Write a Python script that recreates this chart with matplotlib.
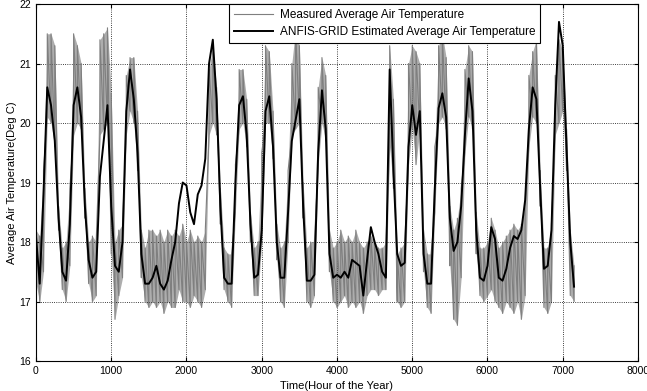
import matplotlib
matplotlib.use('Agg')
import matplotlib.pyplot as plt
import numpy as np

plt.rcParams['font.family'] = ['Liberation Sans', 'DejaVu Sans']

# hour of the year, one reading every 50 h
godziny = list(range(0, 7200, 50))

# ANFIS-GRID estimate (black line)
estymacja = [
    18.1, 17.3, 18.8, 20.6, 20.3, 19.7, 18.4, 17.5, 17.35, 18.3,
    20.3, 20.6, 20.1, 18.6, 17.7, 17.4, 17.5, 19.1, 19.7, 20.3,
    18.6, 17.6, 17.5, 18.0, 20.2, 20.9, 20.4, 19.5, 17.8, 17.3,
    17.3, 17.4, 17.6, 17.3, 17.2, 17.35, 17.7, 18.0, 18.65, 19.0,
    18.95, 18.5, 18.3, 18.8, 18.95, 19.4, 21.0, 21.4, 20.4, 18.6,
    17.4, 17.3, 17.3, 19.0, 20.3, 20.45, 19.8, 18.3, 17.4, 17.45,
    18.2, 20.2, 20.45, 19.6, 18.0, 17.4, 17.4, 18.5, 19.7, 20.05,
    20.4, 18.6, 17.35, 17.35, 17.45, 19.5, 20.55, 19.9, 17.8, 17.4,
    17.45, 17.4, 17.5, 17.4, 17.7, 17.65, 17.6, 17.1, 17.7, 18.25,
    18.0, 17.8, 17.5, 17.4, 20.9, 19.2, 17.8, 17.6, 17.65, 19.6,
    20.3, 19.8, 20.2, 17.8, 17.3, 17.3, 18.9, 20.25, 20.5, 20.1,
    18.4, 17.85, 18.0, 18.6, 19.8, 20.75, 20.2, 18.2, 17.4, 17.35,
    17.6, 18.25, 18.05, 17.4, 17.35, 17.55, 17.9, 18.1, 18.05, 18.2,
    18.7, 19.9, 20.6, 20.4, 18.9, 17.55, 17.6, 18.2, 20.3, 21.7,
    21.3, 19.6, 18.0, 17.25,
]

# measured temperature (grey): lowest and highest spike in each 50 h step
pomiar_min = [
    17.3, 17.0, 17.5, 20.1, 20.0, 19.6, 18.2, 17.2, 17.0, 17.6,
    19.8, 20.0, 19.9, 18.4, 17.3, 17.0, 17.1, 19.8, 19.9, 20.0,
    17.8, 16.7, 17.1, 17.4, 19.8, 20.2, 20.0, 19.2, 17.4, 17.0,
    16.9, 17.0, 16.9, 17.0, 16.8, 17.0, 16.9, 16.9, 17.2, 17.0,
    17.0, 16.9, 17.1, 17.0, 16.9, 17.2, 19.8, 20.0, 19.8, 18.3,
    17.2, 17.0, 16.9, 18.5, 19.9, 20.0, 19.6, 18.0, 17.1, 17.1,
    18.0, 20.0, 20.0, 19.4, 17.7, 17.0, 16.9, 18.0, 19.8, 19.9,
    20.0, 18.4, 17.0, 16.9, 17.1, 19.3, 20.0, 19.7, 17.5, 17.0,
    16.9, 17.0, 17.1, 16.9, 17.0, 16.9, 17.0, 16.8, 17.1, 17.2,
    17.2, 17.1, 17.2, 17.2, 19.6, 18.9, 17.0, 16.9, 17.0, 19.3,
    19.9, 19.3, 19.9, 17.5, 16.9, 16.8, 18.5, 20.0, 20.1, 19.9,
    17.6, 16.7, 16.6, 17.4, 19.5, 20.1, 19.9, 17.8, 17.1, 17.0,
    17.1, 17.2, 17.0, 16.9, 16.8, 17.0, 16.9, 16.8, 17.0, 16.7,
    17.1, 19.6, 20.1, 20.0, 18.6, 16.9, 16.8, 17.0, 19.8, 20.0,
    20.2, 19.2, 17.1, 17.0,
]
pomiar_max = [
    18.2, 18.1, 19.2, 21.5, 21.5, 21.3, 18.6, 17.9, 18.0, 18.9,
    21.5, 21.3, 21.0, 18.9, 18.0, 18.1, 18.0, 21.4, 21.5, 21.6,
    20.5, 18.0, 18.2, 18.3, 20.8, 21.1, 21.1, 20.2, 18.2, 17.9,
    18.2, 18.2, 18.1, 18.2, 18.0, 18.2, 18.1, 18.2, 18.1, 18.3,
    18.0, 18.2, 18.0, 18.1, 18.0, 18.2, 20.9, 21.3, 20.6, 18.9,
    17.9, 17.8, 17.8, 19.3, 20.9, 20.9, 20.4, 18.5, 17.9, 18.0,
    19.5, 21.3, 21.2, 20.2, 18.3, 17.9, 18.0, 19.2, 21.0, 21.6,
    21.3, 19.0, 17.9, 18.0, 18.0, 20.6, 21.1, 20.8, 18.2, 17.9,
    18.0, 18.2, 18.0, 18.1, 18.0, 18.2, 18.0, 17.9, 18.0, 18.1,
    18.0, 17.9, 17.9, 18.0, 21.3, 20.4, 17.8, 17.9, 18.0, 21.0,
    21.3, 21.2, 21.0, 18.2, 17.8, 17.8, 19.6, 21.3, 21.5, 21.1,
    18.6, 18.2, 18.4, 18.9, 20.9, 21.3, 21.2, 18.5, 17.9, 17.9,
    18.0, 18.4, 18.2, 17.9, 18.0, 18.1, 18.2, 18.3, 18.2, 18.3,
    18.6, 20.8, 21.2, 21.4, 19.2, 17.9, 17.9, 18.3, 20.8, 21.4,
    21.2, 19.9, 18.2, 17.6,
]

# szarpana linia: min -> max w kazdym kroku
x_pom = np.repeat(godziny, 2)
y_pom = np.column_stack([pomiar_min, pomiar_max]).ravel()

fig = plt.figure(figsize=(6.47, 3.91), dpi=100)
ax = fig.add_axes([0.0556, 0.0767, 0.9305, 0.913])

# pasmo szumu pomiaru
ax.fill_between(godziny, pomiar_min, pomiar_max, color='#adadad', lw=0)
ax.plot(x_pom, y_pom, color='#7f7f7f', lw=0.8, label='Measured Average Air Temperature')
ax.plot(godziny, estymacja, color='black', lw=1.4,
        label='ANFIS-GRID Estimated Average Air Temperature')

ax.set_xlim(0, 8000)
ax.set_ylim(16, 22)
ax.set_xticks(range(0, 8001, 1000))
ax.set_yticks(range(16, 23))
ax.grid(True, color='black', linestyle=':', linewidth=0.6)
ax.tick_params(direction='in', top=True, right=True, labelsize=7.5, length=3)
for s in ax.spines.values():
    s.set_linewidth(0.8)

ax.set_xlabel('Time(Hour of the Year)', fontsize=8, labelpad=4)
ax.set_ylabel('Average Air Temperature(Deg C)', fontsize=8, labelpad=2)

leg = ax.legend(loc='upper right', bbox_to_anchor=(0.838, 1.0), fontsize=8.5,
                handlelength=3.3, fancybox=False, framealpha=1, borderaxespad=0,
                borderpad=0.4, labelspacing=0.45, handletextpad=0.6)
leg.get_frame().set_edgecolor('black')
leg.get_frame().set_linewidth(0.8)

fig.savefig('out.png', dpi=100)
